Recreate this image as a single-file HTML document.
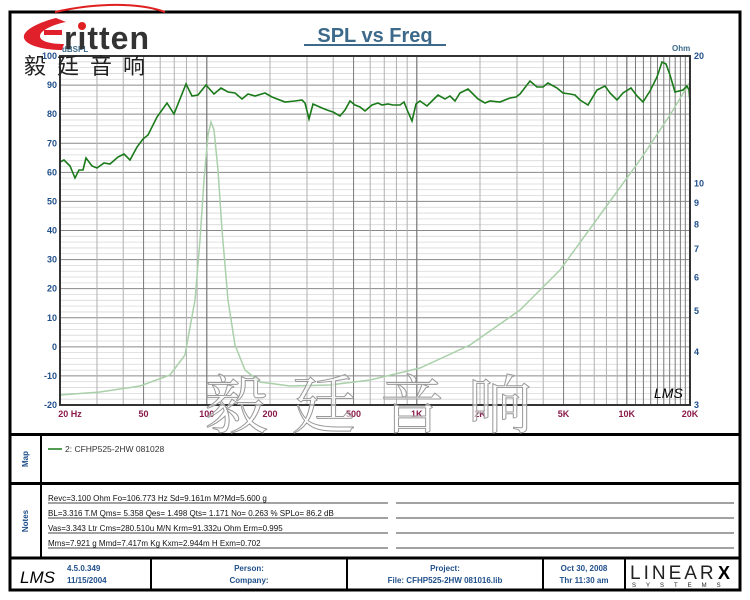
<!DOCTYPE html>
<html><head><meta charset="utf-8"><style>
html,body{margin:0;padding:0;background:#fff;width:750px;height:600px;overflow:hidden}
svg{display:block}
text{font-family:"Liberation Sans","Noto Sans CJK SC",sans-serif}
</style></head><body>
<svg id="s" width="750" height="600" viewBox="0 0 750 600" xmlns="http://www.w3.org/2000/svg">
<rect x="0" y="0" width="750" height="600" fill="#fff"/>
<rect x="10" y="12" width="730" height="578" fill="none" stroke="#000" stroke-width="3"/>
<line x1="10" y1="434.5" x2="740" y2="434.5" stroke="#000" stroke-width="3"/>
<line x1="10" y1="483.5" x2="740" y2="483.5" stroke="#000" stroke-width="3"/>
<line x1="10" y1="558" x2="740" y2="558" stroke="#000" stroke-width="3"/>
<line x1="41" y1="435" x2="41" y2="558" stroke="#000" stroke-width="2"/>
<line x1="151" y1="558" x2="151" y2="590" stroke="#000" stroke-width="2"/>
<line x1="347" y1="558" x2="347" y2="590" stroke="#000" stroke-width="2"/>
<line x1="543" y1="558" x2="543" y2="590" stroke="#000" stroke-width="2"/>
<line x1="625" y1="558" x2="625" y2="590" stroke="#000" stroke-width="2"/>
<g id="grid"></g>
<path fill="none" stroke="#a9d0a9" stroke-width="1.5" d="M60,395 L100,392 L140,386 L170,375 L185,355 L195,300 L200,240 L204,180 L208,135 L211,122 L214,130 L218,170 L222,230 L228,300 L235,345 L245,370 L260,382 L290,386 L330,385 L370,380 L420,368 L470,345 L520,310 L560,270 L600,215 L640,160 L670,115 L690,82"/>
<path fill="none" stroke="#1a7a1a" stroke-width="1.6" d="M60,162 L64,160 L70,166 L75,178 L79,170 L83,170 L86,158 L92,166 L97,168 L104,163 L110,164 L118,157 L124,154 L130,160 L137,147 L143,139 L148,135 L157,117 L167,103 L174,114 L186,84 L192,96 L198,95 L206,85 L214,94 L221,88 L228,92 L235,93 L242,99 L248,94 L255,96 L265,93 L272,97 L285,102 L295,101 L302,100 L305,103 L309,119 L313,104 L322,108 L327,110 L333,112 L340,116 L345,110 L350,101 L355,105 L360,107 L365,111 L372,105 L378,103 L382,105 L388,104 L393,105 L400,105 L404,102 L408,112 L412,121 L416,104 L420,101 L427,106 L433,100 L438,95 L445,99 L450,96 L455,101 L460,93 L468,89 L473,94 L478,99 L485,103 L490,101 L500,102 L510,98 L516,97 L520,94 L530,81 L537,87 L543,87 L548,83 L557,88 L563,93 L570,94 L575,95 L580,100 L588,105 L597,90 L605,86 L610,93 L617,100 L623,93 L631,88 L637,96 L643,102 L650,91 L657,77 L662,62 L666,64 L670,75 L675,92 L683,90 L687,86 L689,90 L690,102"/>
<rect x="60" y="56" width="630" height="349" fill="none" stroke="#333" stroke-width="2"/>
<g id="labels" font-size="9" font-weight="bold"></g>
<text x="375" y="42" font-size="20" font-weight="bold" fill="#3d6a8a" text-anchor="middle">SPL vs Freq</text>
<line x1="304" y1="45" x2="446" y2="45" stroke="#3d6a8a" stroke-width="2"/>
<text x="62" y="52" font-size="8" font-weight="bold" fill="#3d6a8a">dBSPL</text>
<text x="672" y="51" font-size="8" font-weight="bold" fill="#3d6a8a">Ohm</text>
<text x="654" y="398" font-size="14" font-style="italic" fill="#000" font-family="Liberation Serif">LMS</text>
<text x="380" y="428" font-size="64" fill="#fff" fill-opacity="0.6" stroke="#999" stroke-width="1" text-anchor="middle" letter-spacing="24" style="font-family:'Noto Serif CJK SC','Noto Sans CJK SC',serif">毅廷音响</text>
<path d="M55,12 C100,2 140,3 165,12" fill="none" stroke="#e02020" stroke-width="2"/>
<path d="M56,18 C40,22 22,30 24,38 C26,46 46,50 62,50 L64,44 C52,44 40,42 40,36 C40,30 55,24 66,22 Z" fill="#e0202a"/>
<rect x="44" y="30" width="18" height="5" fill="#e0202a"/>
<text x="64" y="49" font-size="32" font-weight="bold" fill="#333" letter-spacing="1">ritten</text>
<circle cx="82" cy="26" r="4" fill="#e02020"/>
<text x="24" y="74" font-size="22" fill="#222" letter-spacing="11" style="font-family:'Noto Sans CJK SC',sans-serif">毅廷音响</text>
<line x1="48" y1="449" x2="62" y2="449" stroke="#1a7a1a" stroke-width="1.5"/>
<text x="65" y="452" font-size="8.5" fill="#333">2: CFHP525-2HW   081028</text>
<text transform="translate(28,459) rotate(-90)" font-size="8" font-weight="bold" fill="#1f4f8a" text-anchor="middle">Map</text>
<text transform="translate(28,521) rotate(-90)" font-size="8" font-weight="bold" fill="#1f4f8a" text-anchor="middle">Notes</text>
<g font-size="8" fill="#111">
<text x="48" y="501">Revc=3.100 Ohm  Fo=106.773 Hz  Sd=9.161m M?Md=5.600 g</text>
<text x="48" y="516">BL=3.316 T.M  Qms= 5.358  Qes= 1.498  Qts= 1.171  No= 0.263 %  SPLo= 86.2 dB</text>
<text x="48" y="531">Vas=3.343 Ltr  Cms=280.510u M/N  Krm=91.332u Ohm  Erm=0.995</text>
<text x="48" y="546">Mms=7.921 g  Mmd=7.417m Kg  Kxm=2.944m H  Exm=0.702</text>
</g>
<g stroke="#444" stroke-width="1">
<line x1="48" y1="503" x2="388" y2="503"/><line x1="396" y1="503" x2="734" y2="503"/>
<line x1="48" y1="518" x2="388" y2="518"/><line x1="396" y1="518" x2="734" y2="518"/>
<line x1="48" y1="533" x2="388" y2="533"/><line x1="396" y1="533" x2="734" y2="533"/>
<line x1="48" y1="548" x2="388" y2="548"/><line x1="396" y1="548" x2="734" y2="548"/>
</g>
<text x="20" y="583" font-size="17" font-style="italic" fill="#000" font-family="Liberation Serif">LMS</text>
<g font-size="8" font-weight="bold" fill="#1f4f8a">
<text x="67" y="571">4.5.0.349</text><text x="67" y="583">11/15/2004</text>
<text x="249" y="571" text-anchor="middle">Person:</text><text x="249" y="583" text-anchor="middle">Company:</text>
<text x="445" y="571" text-anchor="middle">Project:</text><text x="445" y="583" text-anchor="middle">File: CFHP525-2HW  081016.lib</text>
<text x="584" y="571" text-anchor="middle">Oct 30, 2008</text><text x="584" y="583" text-anchor="middle">Thr 11:30 am</text>
</g>
<text x="630" y="579" font-size="19" fill="#222" letter-spacing="3" font-family="Liberation Serif">LINEAR</text>
<text x="718" y="579" font-size="18" font-weight="bold" fill="#000">X</text>
<text x="632" y="587" font-size="6" fill="#222" letter-spacing="10">SYSTEMS</text>
</svg>
<script>
var ns="http://www.w3.org/2000/svg",g=document.getElementById('grid'),L=document.getElementById('labels');
function ln(x1,y1,x2,y2,c,w){var e=document.createElementNS(ns,'line');e.setAttribute('x1',x1);e.setAttribute('y1',y1);e.setAttribute('x2',x2);e.setAttribute('y2',y2);e.setAttribute('stroke',c);e.setAttribute('stroke-width',w);g.appendChild(e);}
function tx(x,y,s,c,a){var e=document.createElementNS(ns,'text');e.setAttribute('x',x);e.setAttribute('y',y);e.setAttribute('fill',c);if(a)e.setAttribute('text-anchor',a);e.textContent=s;L.appendChild(e);}
var y0=56,y1=405,h=349;
for(var i=0;i<=60;i++){var y=y0+h*i/60;if(i%5)ln(60,y,690,y,'#d8d8d8',0.8);}
for(var i=0;i<=12;i++){var y=y0+h*i/12;ln(60,y,690,y,'#8a8a8a',1);if(i<12)tx(57,y+3,String(100-10*i),'#1f4f8a','end');}
function X(f){return 60+210*Math.log10(f/20);}
[[20,100,10],[100,1000,100],[1000,10000,1000],[10000,20000,1000]].forEach(function(r){for(var f=r[0];f<=r[1];f+=r[2]){var m=(String(f)[0]=='1'||String(f)[0]=='5'||f==20);ln(X(f),y0,X(f),y1,m?'#7a7a7a':'#b0b0b0',1);}});
[['20  Hz',20,70],['50',50],['100',100],['200',200],['500',500],['1K',1000],['2K',2000],['5K',5000],['10K',10000],['20K',20000]].forEach(function(a){tx(a[2]||X(a[1]),417,a[0],'#8a1a4a','middle');});
tx(57,408,'-20','#1f4f8a','end');
function Y(o){return 56+349*Math.log10(20/o)/Math.log10(20/3);}
[20,10,9,8,7,6,5,4,3].forEach(function(o){tx(694,Y(o)+3,String(o),'#1f4f8a');});
</script>
</body></html>
